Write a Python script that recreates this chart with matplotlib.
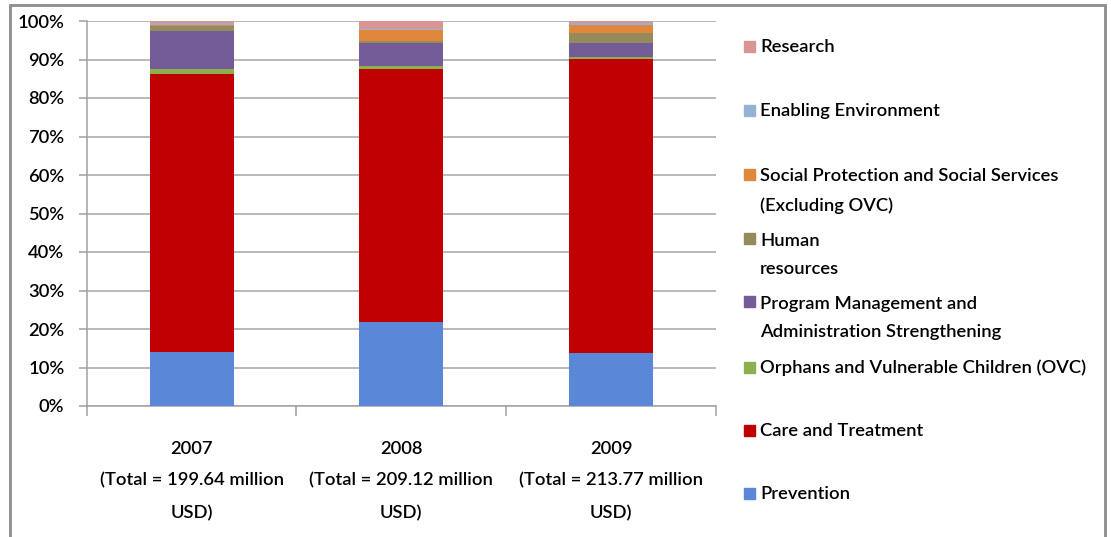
import matplotlib
matplotlib.use("Agg")
import matplotlib.pyplot as plt
from matplotlib.patches import Rectangle

plt.rcParams['font.family'] = ['Lato', 'DejaVu Sans']
plt.rcParams['font.weight'] = 'semibold'

categories = ["2007\n(Total = 199.64 million\nUSD)",
              "2008\n(Total = 209.12 million\nUSD)",
              "2009\n(Total = 213.77 million\nUSD)"]

# stacked bottom -> top
series_names = ["Prevention", "Care and Treatment",
                "Orphans and Vulnerable Children (OVC)",
                "Program Management and\nAdministration Strengthening",
                "Human\nresources",
                "Social Protection and Social Services\n(Excluding OVC)",
                "Enabling Environment", "Research"]
prevention = [14.0, 21.8, 13.7]
care_treatment = [72.2, 65.7, 76.4]
ovc = [1.3, 0.7, 0.6]
program_mgmt = [9.9, 6.0, 3.5]
human_resources = [1.3, 0.6, 2.8]
social_protection = [0.35, 2.85, 2.0]
enabling_env = [0.5, 0.4, 0.6]
research = [0.5, 2.0, 0.5]
series_values = [prevention, care_treatment, ovc, program_mgmt,
                 human_resources, social_protection, enabling_env, research]
colors = ["#5B87D8", "#C00000", "#8DB04F", "#735C98",
          "#958B5A", "#E0873C", "#95B1D6", "#D99593"]
yticks = [0, 10, 20, 30, 40, 50, 60, 70, 80, 90, 100]

W, H = 1111, 537
fig = plt.figure(figsize=(W / 100, H / 100), dpi=100)
ax = fig.add_axes([86.7 / W, 1 - 406 / H, (716 - 86.7) / W, (406 - 21) / H])

x = list(range(len(categories)))
bottoms = [0.0] * len(categories)
for name, vals, c in zip(series_names, series_values, colors):
    ax.bar(x, vals, width=0.4, bottom=bottoms, color=c, zorder=3)
    bottoms = [b + v for b, v in zip(bottoms, vals)]

FS = 13.2
ax.set_xlim(-0.5, 2.5)
ax.set_ylim(0, 100)
ax.set_yticks(yticks)
ax.set_yticklabels([f"{t}%" for t in yticks], fontsize=FS)
ax.yaxis.grid(True, color="#a6a6a6", lw=1.1, zorder=0)
ax.tick_params(axis='y', length=6, color="#a0a0a0", pad=10, width=1.1)

ax.set_xticks([-0.5, 0.5, 1.5, 2.5])
ax.set_xticklabels([])
ax.tick_params(axis='x', which='major', length=7, color="#a0a0a0", width=1.1)
ax.set_xticks(x, minor=True)
ax.set_xticklabels(categories, minor=True, fontsize=FS, linespacing=2.2)
ax.tick_params(axis='x', which='minor', length=0, pad=25)

for s in ["top", "right"]:
    ax.spines[s].set_visible(False)
for s in ["left", "bottom"]:
    ax.spines[s].set_color("#a0a0a0")
    ax.spines[s].set_linewidth(1.1)

# legend (manual, Excel-style irregular slots)
legend_y = [494, 431, 368, 318, 255, 191, 111, 47]
for name, c, yy in zip(series_names, colors, legend_y):
    first_line_y = yy - 16 if "\n" in name else yy
    fig.patches.append(Rectangle((744 / W, 1 - (first_line_y + 5) / H), 11 / W, 11 / H,
                                 transform=fig.transFigure, color=c))
    fig.text(760 / W, 1 - yy / H, name, fontsize=FS, va='center', ha='left',
             linespacing=2.0)

# outer frame
fig.patches.append(Rectangle((10 / W, -0.05), (1105 - 10) / W, 1.05 - 5 / H,
                             transform=fig.transFigure, fill=False,
                             edgecolor="#8c8c8c", lw=2))

fig.savefig("out.png", dpi=100)
